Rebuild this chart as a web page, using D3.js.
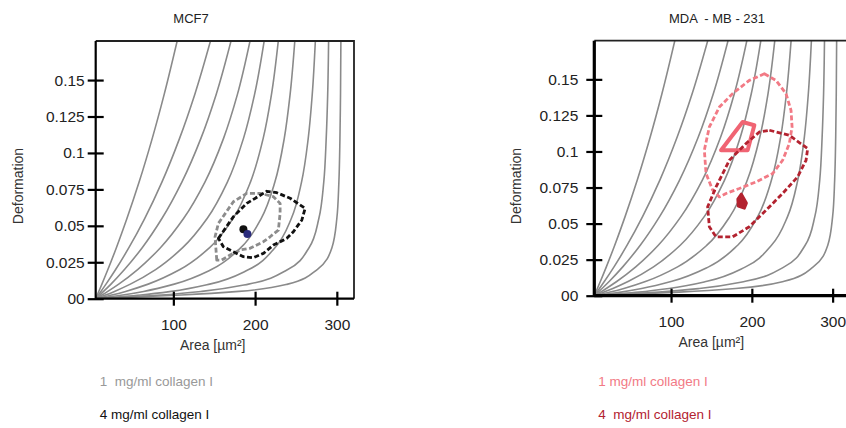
<!DOCTYPE html>
<html>
<head>
<meta charset="utf-8">
<script src="https://cdn.jsdelivr.net/npm/d3@7"></script>
<style>
  body { margin: 0; background: #fff; }
  svg { display: block; font-family: "Liberation Sans", Arial, Helvetica, sans-serif; }
  text { white-space: pre; }
</style>
</head>
<body>
<script>
var deformLevels = [0, 0.0025, 0.005, 0.01, 0.02, 0.035, 0.055, 0.08, 0.11, 0.14, 0.18];
// area [µm²] of each isoelastic line at those levels
var isoAreas = [
  [5, 6.9, 8.8, 12.6, 19.9, 30.3, 43.2, 58.1, 74.2, 88.7, 106],
  [5, 8.2, 11.4, 17.6, 29.4, 45.6, 64.9, 86.0, 107.6, 126.1, 147],
  [5, 9.9, 14.6, 23.7, 40.2, 61.9, 86.0, 110.4, 133.7, 152.3, 172],
  [5, 12.6, 19.8, 33.2, 56.3, 84.2, 112.5, 138.6, 161.4, 178.3, 195],
  [5, 17.0, 28.0, 47.4, 78.3, 111.4, 141.3, 166.1, 185.8, 199.3, 212],
  [5, 24.6, 41.6, 69.2, 108.1, 144.4, 173.0, 194.3, 209.9, 220.0, 229],
  [5, 37.9, 63.6, 101.1, 146.5, 182.5, 207.4, 224.2, 235.7, 242.8, 249],
  [5, 60.1, 97.4, 144.5, 192.2, 224.3, 244.3, 256.8, 265.0, 269.9, 274],
  [5, 85, 135, 192, 240, 266, 278, 284, 287, 288.8, 290],
  [5, 110, 180, 240, 276, 294, 300, 302.5, 303.8, 304.5, 305]
];

var xTicks = [100, 200, 300];
var yTicks = [0, 0.025, 0.05, 0.075, 0.1, 0.125, 0.15];
var yTickLabels = ["00", "0.025", "0.05", "0.075", "0.1", "0.125", "0.15"];
var areaDomain = [5, 321];
var deformDomain = [0, 0.1768];

// MCF7 contours [area, deformation]
var mcf7Low = [[153.1,0.0265],[151.0,0.0425],[155.1,0.0517],[173.4,0.0665],[189.8,0.0723],[206.1,0.0723],
  [222.4,0.070],[230.6,0.0654],[230.6,0.0586],[228.5,0.0471],[218.4,0.0425],[210.2,0.0391],[193.9,0.0346],
  [181.6,0.0334],[169.4,0.030],[159.2,0.0265]];
var mcf7High = [[155.1,0.0414],[173.4,0.0562],[189.8,0.0654],[214.3,0.0737],[226.6,0.0727],[242.9,0.0689],
  [261.2,0.062],[257.2,0.054],[246.9,0.046],[238.8,0.0414],[222.4,0.0368],[210.2,0.0311],[197.9,0.0281],
  [185.7,0.0288],[173.4,0.0322],[161.2,0.0357]];
var mcf7Peaks = [[185.7, 0.0476], [190.6, 0.0444]];

// MDA-MB-231 contours
var mdaLow = [[215.5,0.1539],[229.9,0.1493],[242.3,0.1401],[248.5,0.1285],[249.8,0.117],[246.4,0.1055],
  [238.1,0.0939],[225.7,0.0847],[205.2,0.0789],[184.5,0.0743],[168.1,0.0709],[159.8,0.0685],[151.5,0.0732],
  [143.3,0.0847],[141.2,0.1009],[147.4,0.117],[159.8,0.1308],[176.2,0.1401],[196.9,0.1493]];
var mdaLowCore = [[161.9,0.1009],[188.6,0.1204],[203.1,0.1182],[194.8,0.1009]];
var mdaHigh = [[221.7,0.1147],[246.4,0.1112],[269.1,0.102],[267.1,0.0939],[256.7,0.0824],[238.1,0.0709],
  [217.6,0.0593],[196.9,0.0478],[176.2,0.0408],[155.7,0.0408],[147.4,0.0478],[145.3,0.0616],[155.7,0.0754],
  [172.2,0.0939],[192.8,0.1055],[209.3,0.1135]];
var mdaHighCore = [[182.7,0.0669],[187,0.0704],[193.2,0.0642],[190.7,0.0607],[183.3,0.0621]];

var svg = d3.select("body").append("svg")
    .attr("width", 846)
    .attr("height", 428);

function drawPanel(p) {
    var x = d3.scaleLinear().domain(areaDomain).range(p.xr);
    var y = d3.scaleLinear().domain(deformDomain).range(p.yr);
    var g = svg.append("g");

    svg.append("clipPath").attr("id", "clip-" + p.id)
        .append("rect")
        .attr("x", p.xr[0]).attr("y", p.yr[1])
        .attr("width", p.xr[1] - p.xr[0]).attr("height", p.yr[0] - p.yr[1]);

    var iso = d3.line()
        .x(function (d) { return x(d[0]); })
        .y(function (d) { return y(d[1]); })
        .curve(d3.curveMonotoneY);

    g.append("g").attr("clip-path", "url(#clip-" + p.id + ")")
        .selectAll("path.iso")
        .data(isoAreas)
        .enter().append("path")
        .attr("class", "iso")
        .attr("d", function (a) {
            return iso(a.map(function (v, i) { return [v, deformLevels[i]]; }).reverse());
        })
        .style("fill", "none")
        .style("stroke", "#8a8a8a")
        .style("stroke-width", 1.6);

    var ring = d3.line()
        .x(function (d) { return x(d[0]); })
        .y(function (d) { return y(d[1]); })
        .curve(d3.curveLinearClosed);

    p.contours.forEach(function (c) {
        g.append("path")
            .attr("d", ring(c.pts))
            .style("fill", c.fill || "none")
            .style("stroke", c.color)
            .style("stroke-width", c.width)
            .style("stroke-dasharray", c.dash || null)
            .style("stroke-linejoin", "round");
    });

    (p.dots || []).forEach(function (d) {
        g.append("circle")
            .attr("cx", x(d.pt[0])).attr("cy", y(d.pt[1]))
            .attr("r", 4)
            .style("fill", d.color);
    });

    // frame: top + right
    g.append("path")
        .attr("d", "M" + p.xr[0] + "," + p.yr[1] + "H" + p.xr[1] + "V" + p.yr[0])
        .style("fill", "none")
        .style("stroke", "#222")
        .style("stroke-width", 1.8);

    var yAxis = g.append("g")
        .attr("transform", "translate(" + p.xr[0] + ",0)")
        .call(d3.axisLeft(y).tickValues(yTicks)
            .tickFormat(function (d, i) { return yTickLabels[i]; })
            .tickSize(8).tickPadding(p.yPad));
    yAxis.selectAll(".tick line").attr("x1", 8);

    var xAxis = g.append("g")
        .attr("transform", "translate(0," + p.yr[0] + ")")
        .call(d3.axisBottom(x).tickValues(xTicks).tickSize(7).tickPadding(13));
    xAxis.selectAll(".tick line").attr("y1", -7);

    [yAxis, xAxis].forEach(function (a) {
        a.select(".domain").style("stroke", "#000").style("stroke-width", p.axisWidth);
        a.selectAll(".tick line").style("stroke", "#000").style("stroke-width", 2.2);
        a.selectAll("text").style("font-size", "15.5px").style("fill", "#222");
    });
    yAxis.select(".domain").attr("d", "M0," + p.yr[0] + "V" + p.yr[1]);
    xAxis.select(".domain").attr("d", "M" + p.xr[0] + ",0H" + p.xr[1]);

    g.append("text")
        .attr("x", p.title[0]).attr("y", 23)
        .attr("text-anchor", "middle")
        .attr("xml:space", "preserve")
        .style("font-size", "13px").style("fill", "#222")
        .text(p.title[1]);

    g.append("text")
        .attr("x", p.xr[0] + 117).attr("y", p.yr[0] + 51)
        .attr("text-anchor", "middle")
        .style("font-size", "14px").style("fill", "#333")
        .text("Area [µm²]");

    g.append("text")
        .attr("transform", "translate(" + (p.xr[0] - 73) + "," + 186 + ") rotate(-90)")
        .attr("text-anchor", "middle")
        .style("font-size", "14px").style("fill", "#333")
        .text("Deformation");

    p.legend.forEach(function (l, i) {
        g.append("text")
            .attr("x", p.xr[0] + 4).attr("y", 386 + i * 33)
            .attr("xml:space", "preserve")
            .style("font-size", "13.5px").style("fill", l[1])
            .text(l[0]);
    });
}

drawPanel({
    id: "mcf7",
    xr: [95.7, 354], yr: [298.7, 41],
    axisWidth: 2.2, yPad: 3,
    title: [191, "MCF7"],
    contours: [
        { pts: mcf7Low, color: "#8c8c8c", width: 2.8, dash: "5,2.5" },
        { pts: mcf7High, color: "#111", width: 2.8, dash: "5,2.5" }
    ],
    dots: [
        { pt: mcf7Peaks[0], color: "#111" },
        { pt: mcf7Peaks[1], color: "#2b2c7c" }
    ],
    legend: [["1  mg/ml collagen I", "#999"], ["4 mg/ml collagen I", "#111"]]
});

drawPanel({
    id: "mda",
    xr: [594.3, 849.6], yr: [295.7, 40.7],
    axisWidth: 3.2, yPad: 8,
    title: [717, "MDA  - MB - 231"],
    contours: [
        { pts: mdaLow, color: "#f27a85", width: 2.8, dash: "5,2.5" },
        { pts: mdaLowCore, color: "#f06473", width: 4 },
        { pts: mdaHigh, color: "#b3222f", width: 2.8, dash: "5,2.5" },
        { pts: mdaHighCore, color: "#b3222f", width: 3, fill: "#b3222f" }
    ],
    legend: [["1 mg/ml collagen I", "#f27a85"], ["4  mg/ml collagen I", "#b3222f"]]
});
</script>
</body>
</html>
